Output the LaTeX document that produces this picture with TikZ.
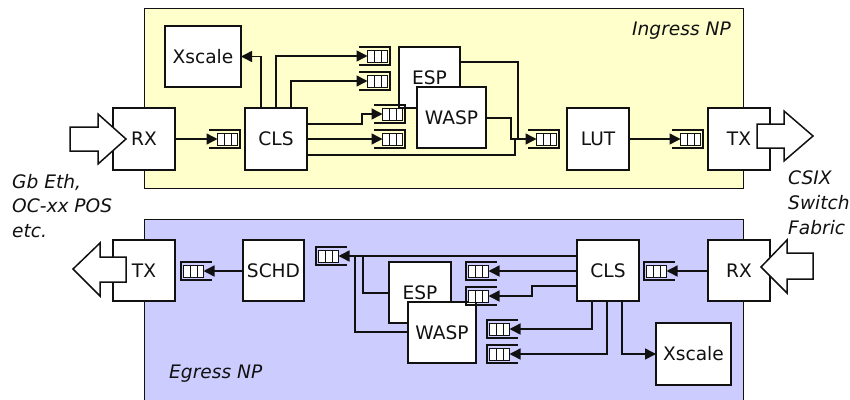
\documentclass[tikz,border=0pt]{standalone}
\usepackage{fontspec}
\setmainfont{DejaVu Sans}
\usetikzlibrary{arrows.meta}
\definecolor{ingress}{HTML}{FFFFCC}
\definecolor{egress}{HTML}{CCCCFF}
\definecolor{ink}{HTML}{111111}
\tikzset{
  panel/.style={draw=ink,line width=1pt},
  blockbox/.style={draw=ink,fill=white,line width=1.5pt,inner sep=0pt,outer sep=0pt,text=ink,font=\fontsize{18.6}{18.6}\selectfont,text height=13.5pt,text depth=0pt},
  wire/.style={draw=ink,line width=1.5pt},
  feed/.style={wire,-{Triangle[length=11pt,width=11pt]}},
  fat/.style={draw=ink,fill=white,line width=1.5pt,line join=miter},
  captext/.style={text=ink,font=\fontsize{18.6}{18.6}\selectfont\itshape,inner sep=0pt,anchor=base west},
  queuebox/.style={draw=ink,fill=white,line width=1pt,minimum width=20pt,minimum height=12pt,inner sep=0pt,outer sep=0pt},
  bracket/.style={draw=ink,line width=1.4pt,line join=miter}
}
% name, left, top, right, bottom, text
\newcommand{\blk}[6]{\node[blockbox,minimum width=#4pt-#2pt,minimum height=#5pt-#3pt] (#1) at ({(#2+#4)/2},{(#3+#5)/2}) {#6};}
% queue opening to the left: name, left x, centre y
\newcommand{\qopenleft}[3]{%
  \draw[bracket] (#2,#3-9) -- (#2+31,#3-9) -- (#2+31,#3+9) -- (#2,#3+9);
  \node[queuebox] (#1) at (#2+18.5,#3) {};
  \draw[line width=1pt,draw=ink] (#2+15,#3-6) -- (#2+15,#3+6) (#2+22,#3-6) -- (#2+22,#3+6);}
% queue opening to the right
\newcommand{\qopenright}[3]{%
  \draw[bracket] (#2+31,#3-9) -- (#2,#3-9) -- (#2,#3+9) -- (#2+31,#3+9);
  \node[queuebox] (#1) at (#2+12.5,#3) {};
  \draw[line width=1pt,draw=ink] (#2+9,#3-6) -- (#2+9,#3+6) (#2+16,#3-6) -- (#2+16,#3+6);}
\begin{document}
\begin{tikzpicture}[x=1pt,y=-1pt]
\useasboundingbox (0,0) rectangle (850,399);
% panels
\path[panel,fill=ingress] (144,8) rectangle (743,188);
\path[panel,fill=egress] (144,219) rectangle (743,400);
\node[captext] (ingresslabel) at (632,35) {Ingress NP};
\node[captext] (egresslabel) at (169,378) {Egress NP};
\node[captext] (l1) at (12,188) {Gb Eth,};
\node[captext] (l2) at (12,212) {OC-xx POS};
\node[captext] (l3) at (12,237) {etc.};
\node[captext] (r1) at (788,184) {CSIX};
\node[captext] (r2) at (788,209) {Switch};
\node[captext] (r3) at (788,234) {Fabric};
% ingress blocks
\blk{irx}{113}{108}{175}{170}{RX}
\blk{ixs}{165}{26}{241}{87}{Xscale}
\blk{icls}{245}{108}{307}{170}{CLS}
\blk{iesp}{399}{47}{460}{108}{ESP}
\blk{ilut}{567}{108}{629}{170}{LUT}
\blk{itx}{708}{108}{770}{170}{TX}
\qopenleft{q0}{209}{139}
\qopenleft{q1}{359}{56}
\qopenleft{q2}{359}{81}
\qopenleft{q3}{374}{114}
\qopenleft{q4}{374}{139}
\qopenleft{q5}{528}{139}
\qopenleft{q6}{672}{139}
\blk{iwasp}{417}{87}{486}{148}{WASP}
% ingress wires
\coordinate (ic1) at (261,108);
\coordinate (ic2) at (276,108);
\coordinate (ic3) at (291,108);
\coordinate (ic4) at (307,124);
\coordinate (ic5) at (307,139);
\coordinate (ic6) at (307,155);
\coordinate (ic4a) at (362,124);
\coordinate (ic6a) at (515,155);
\coordinate (ie) at (460,62);
\coordinate (iea) at (518,62);
\coordinate (iw) at (486,118);
\coordinate (iwa) at (511,118);
\draw[feed] (irx.east |- q0) -- (q0.west);
\draw[feed] (ic1) |- (ixs.east);
\draw[feed] (ic2) |- (q1.west);
\draw[feed] (ic3) |- (q2.west);
\draw[feed] (ic4) -- (ic4a) |- (q3.west);
\draw[feed] (ic5) -- (q4.west);
\draw[wire] (ic6) -- (ic6a) -- (ic6a |- q5.west);
\draw[wire] (ie) -- (iea) -- (iea |- q5.west);
\draw[feed] (iw) -- (iwa) |- (q5.west);
\draw[feed] (ilut.east |- q6) -- (q6.west);
% fat arrows, ingress
\draw[fat] (70,127) -- (98,127) -- (98,114) -- (126,139) -- (98,164) -- (98,151) -- (70,151) -- cycle;
\draw[fat] (757,124) -- (784,124) -- (784,111) -- (813,136) -- (784,161) -- (784,148) -- (757,148) -- cycle;
% egress blocks
\blk{etx}{113}{240}{175}{301}{TX}
\blk{esc}{243}{240}{304}{301}{SCHD}
\blk{ecls}{577}{240}{639}{301}{CLS}
\blk{erx}{708}{240}{770}{301}{RX}
\blk{exs}{656}{323}{731}{385}{Xscale}
\blk{eesp}{389}{262}{451}{323}{ESP}
\blk{ewasp}{408}{302}{476}{363}{WASP}
\qopenright{p0}{181}{271}
\qopenright{p1}{316}{256}
\qopenright{p2}{466}{271}
\qopenright{p3}{466}{296}
\qopenright{p4}{487}{329}
\qopenright{p5}{487}{354}
\qopenright{p6}{644}{271}
% egress wires
\coordinate (ec1) at (577,256);
\coordinate (ec2) at (577,271);
\coordinate (ec3) at (577,286);
\coordinate (ec3a) at (532,286);
\coordinate (ec4) at (592,301);
\coordinate (ec5) at (607,301);
\coordinate (ec6) at (622,301);
\coordinate (ee) at (389,293);
\coordinate (eea) at (363,293);
\coordinate (ew) at (408,332);
\coordinate (ewa) at (355,332);
\draw[feed] (ec1) -- (p1.east);
\draw[wire] (ee) -- (eea) -- (eea |- p1.east);
\draw[wire] (ew) -- (ewa) -- (ewa |- p1.east);
\draw[feed] (ec2) -- (p2.east);
\draw[feed] (ec3) -- (ec3a) |- (p3.east);
\draw[feed] (ec4) |- (p4.east);
\draw[feed] (ec5) |- (p5.east);
\draw[feed] (ec6) |- (exs.west |- p5.east);
\draw[feed] (esc.west |- p0) -- (p0.east);
\draw[feed] (erx.west |- p6) -- (p6.east);
% fat arrows, egress
\draw[fat] (813,253) -- (787,253) -- (787,240) -- (761,267) -- (787,293) -- (787,279) -- (813,279) -- cycle;
\draw[fat] (126,257) -- (100,257) -- (100,243) -- (73,269) -- (100,296) -- (100,282) -- (126,282) -- cycle;
\end{tikzpicture}
\end{document}
